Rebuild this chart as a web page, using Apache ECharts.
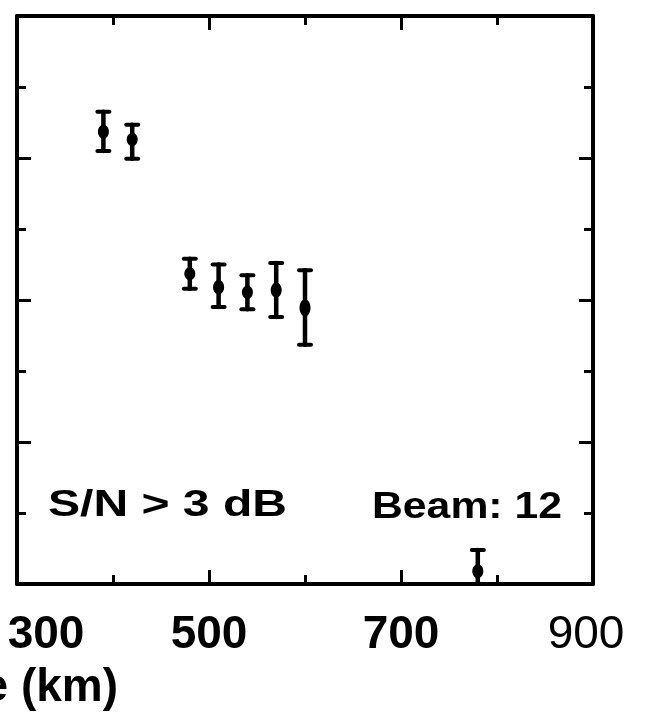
<!DOCTYPE html>
<html>
<head>
<meta charset="utf-8">
<script src="https://cdn.jsdelivr.net/npm/echarts@6/dist/echarts.min.js"></script>
<style>
  html, body { margin: 0; padding: 0; background: #fff; }
  #chart { width: 646px; height: 715px; }
</style>
</head>
<body>
<div id="chart"></div>
<script>
// Range of each echo (km) and its value with upper / lower error limits
const rangeKm = [390, 420, 480, 510, 540, 570, 600, 780];
const center  = [63.7, 62.6, 43.7, 41.8, 41.1, 41.4, 38.9, 1.8];
const upper   = [66.5, 64.7, 45.8, 45.0, 43.5, 45.2, 44.2, 4.8];
const lower   = [61.0, 59.9, 41.6, 39.0, 38.7, 37.6, 33.7, -1.0];

// Labelled ticks on the range axis
const xTickLabels = ['300', '500', '700', '900'];

const noteLeft = 'S/N > 3 dB';
const noteRight = 'Beam: 12';
const axisTitle = 'e (km)';

const FONT = '"Liberation Sans", Arial, Helvetica, sans-serif';

function textWidth(text, font) {
  const ctx = document.createElement('canvas').getContext('2d');
  ctx.font = font;
  return ctx.measureText(text).width;
}

const seriesData = rangeKm.map((x, i) => [x, center[i], upper[i], lower[i]]);

// Error bar: stem, two caps and a filled blob at the measured value
function renderErrorBar(params, api) {
  const x = api.value(0);
  const pC = api.coord([x, api.value(1)]);
  const pHi = api.coord([x, api.value(2)]);
  const pLo = api.coord([x, api.value(3)]);
  const cap = 6;
  const spread = api.value(2) - api.value(3);
  const ls = { stroke: '#000', lineWidth: 4.5, lineCap: 'round' };
  const capStyle = { stroke: '#000', lineWidth: 4, lineCap: 'round' };
  return {
    type: 'group',
    children: [
      { type: 'line', shape: { x1: pHi[0], y1: pHi[1], x2: pLo[0], y2: pLo[1] }, style: ls },
      { type: 'line', shape: { x1: pHi[0] - cap, y1: pHi[1], x2: pHi[0] + cap, y2: pHi[1] }, style: capStyle },
      { type: 'line', shape: { x1: pLo[0] - cap, y1: pLo[1], x2: pLo[0] + cap, y2: pLo[1] }, style: capStyle },
      { type: 'ellipse', shape: { cx: pC[0], cy: pC[1], rx: 5.5, ry: 5 + spread * 0.35 }, style: { fill: '#000' } }
    ]
  };
}

const axisLineStyle = { color: '#000', width: 4 };
const tickStyle = { color: '#000', width: 3 };

function xAxisDef(position, withLabels) {
  return {
    type: 'value',
    position: position,
    min: 300, max: 900, interval: 200,
    axisLine: { show: true, onZero: false, lineStyle: axisLineStyle },
    axisTick: { show: true, inside: true, length: 14, lineStyle: tickStyle },
    minorTick: { show: true, splitNumber: 2, length: 9, lineStyle: tickStyle },
    splitLine: { show: false },
    minorSplitLine: { show: false },
    axisLabel: withLabels ? {
      show: true,
      margin: 28,
      showMinLabel: true,
      showMaxLabel: true,
      formatter: v => {
        const s = String(v);
        if (!xTickLabels.includes(s)) return '';
        if (v === 300) return '{lo|' + s + '}';
        if (v === 900) return '{hi|' + s + '}';
        return '{b|' + s + '}';
      },
      rich: {
        lo: { fontFamily: FONT, fontSize: 46, fontWeight: 'bold', color: '#000', padding: [0, 0, 0, 58] },
        b:  { fontFamily: FONT, fontSize: 46, fontWeight: 'bold', color: '#000', padding: [0, 0, 0, 0] },
        hi: { fontFamily: FONT, fontSize: 46, fontWeight: 'normal', color: '#000', padding: [0, 14, 0, 0] }
      }
    } : { show: false }
  };
}

function yAxisDef(position) {
  return {
    type: 'value',
    position: position,
    min: 0, max: 80, interval: 20,
    axisLine: { show: true, onZero: false, lineStyle: axisLineStyle },
    axisTick: { show: true, inside: true, length: 14, lineStyle: tickStyle },
    minorTick: { show: true, splitNumber: 2, length: 9, lineStyle: tickStyle },
    splitLine: { show: false },
    minorSplitLine: { show: false },
    axisLabel: { show: false }
  };
}

const leftFont = 'bold 36px ' + FONT;
const rightFont = 'bold 36px ' + FONT;

const chart = echarts.init(document.getElementById('chart'), null, { renderer: 'canvas' });
chart.setOption({
  backgroundColor: '#fff',
  animation: false,
  grid: { left: 17, right: 53, top: 16, bottom: 131, containLabel: false },
  xAxis: [xAxisDef('bottom', true), xAxisDef('top', false)],
  yAxis: [yAxisDef('left'), yAxisDef('right')],
  series: [{
    type: 'custom',
    xAxisIndex: 0,
    yAxisIndex: 0,
    clip: true,
    renderItem: renderErrorBar,
    data: seriesData
  }],
  graphic: [
    {
      type: 'text', x: 48, y: 506,
      scaleX: 239 / textWidth(noteLeft, leftFont),
      style: { text: noteLeft, font: leftFont, fill: '#000', align: 'left', verticalAlign: 'middle', textAlign: 'left', textVerticalAlign: 'middle' }
    },
    {
      type: 'text', x: 372, y: 508,
      scaleX: 190 / textWidth(noteRight, rightFont),
      style: { text: noteRight, font: rightFont, fill: '#000', align: 'left', verticalAlign: 'middle', textAlign: 'left', textVerticalAlign: 'middle' }
    },
    {
      type: 'text', x: 118, y: 688,
      style: { text: axisTitle, font: 'bold 46px ' + FONT, fill: '#000', align: 'right', verticalAlign: 'middle', textAlign: 'right', textVerticalAlign: 'middle' }
    }
  ]
});
</script>
</body>
</html>
